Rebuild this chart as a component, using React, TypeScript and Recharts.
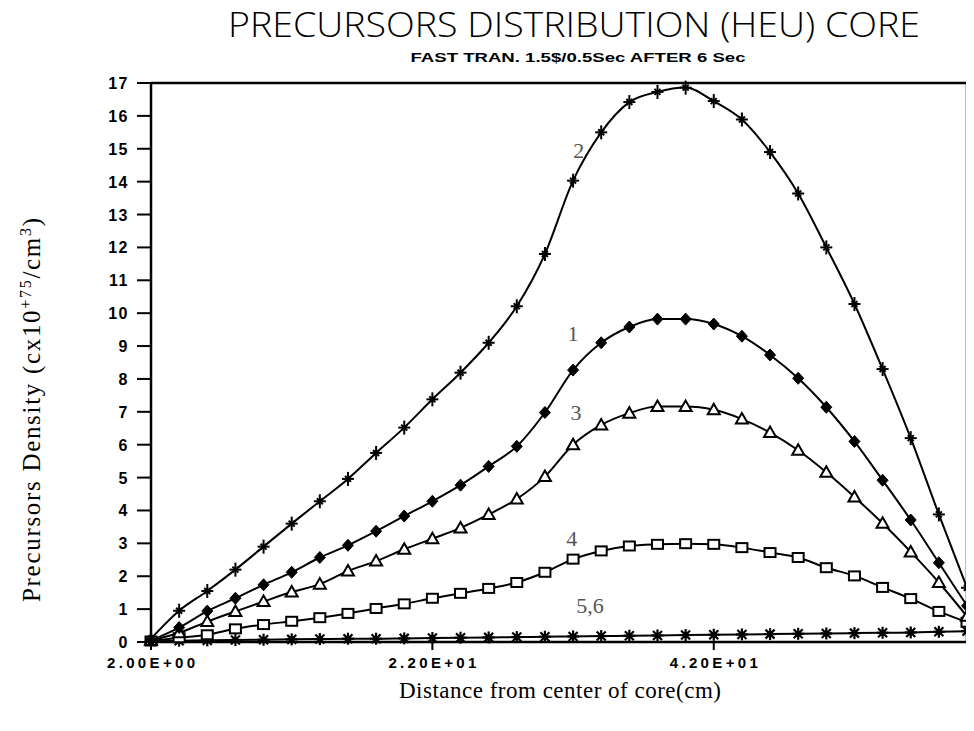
import React from "react";
import { LineChart, Line, XAxis, YAxis, ReferenceLine, ReferenceDot } from "recharts";

// Radial positions (cm) where the precursor density was sampled
const distances = [2, 4, 6, 8, 10, 12, 14, 16, 18, 20, 22, 24, 26, 28, 30, 32, 34, 36, 38, 40, 42, 44, 46, 48, 50, 52, 54, 56, 58, 60];

// Precursor group densities (x10^75 / cm^3)
const group2 = [0.1, 0.95, 1.55, 2.2, 2.9, 3.6, 4.28, 4.96, 5.75, 6.52, 7.38, 8.19, 9.1, 10.21, 11.8, 14.03, 15.5, 16.42, 16.73, 16.86, 16.45, 15.89, 14.9, 13.64, 12.0, 10.28, 8.3, 6.2, 3.88, 1.65];
const group1 = [0.05, 0.44, 0.94, 1.33, 1.74, 2.12, 2.57, 2.94, 3.37, 3.83, 4.28, 4.77, 5.34, 5.95, 6.98, 8.27, 9.1, 9.58, 9.82, 9.82, 9.67, 9.3, 8.73, 8.02, 7.14, 6.1, 4.92, 3.71, 2.41, 1.1];
const group3 = [0.05, 0.28, 0.62, 0.93, 1.23, 1.52, 1.76, 2.16, 2.46, 2.82, 3.14, 3.47, 3.88, 4.35, 5.03, 6.0, 6.6, 6.96, 7.16, 7.16, 7.06, 6.78, 6.37, 5.83, 5.16, 4.41, 3.61, 2.74, 1.81, 0.78];
const group4 = [0.03, 0.13, 0.22, 0.4, 0.53, 0.63, 0.74, 0.87, 1.02, 1.16, 1.33, 1.48, 1.63, 1.81, 2.12, 2.52, 2.77, 2.92, 2.97, 2.99, 2.97, 2.87, 2.72, 2.57, 2.26, 2.01, 1.66, 1.32, 0.93, 0.6];
const group56 = [0.02, 0.04, 0.05, 0.06, 0.07, 0.08, 0.09, 0.1, 0.1, 0.11, 0.12, 0.13, 0.14, 0.15, 0.16, 0.17, 0.18, 0.19, 0.2, 0.21, 0.22, 0.23, 0.24, 0.25, 0.26, 0.27, 0.28, 0.29, 0.31, 0.33];

const xTickValues = [2, 22, 42];
const yTickValues = [0, 1, 2, 3, 4, 5, 6, 7, 8, 9, 10, 11, 12, 13, 14, 15, 16, 17];

// Group numbers written beside each curve
const groupTags = [
  { text: "2", distance: 32.4, density: 14.95 },
  { text: "1", distance: 32.0, density: 9.4 },
  { text: "3", distance: 32.2, density: 7.0 },
  { text: "4", distance: 31.9, density: 3.16 },
  { text: "5,6", distance: 33.2, density: 1.12 },
];

const rows = distances.map((d, i) => ({
  d,
  g1: group1[i],
  g2: group2[i],
  g3: group3[i],
  g4: group4[i],
  g56: group56[i],
}));

const W = 966;
const H = 715;
const INK = "#000";

const sci = (v: number) => {
  const exp = v === 0 ? 0 : Math.floor(Math.log10(Math.abs(v)));
  const mant = v / Math.pow(10, exp);
  return `${mant.toFixed(2)}E${exp >= 0 ? "+" : "-"}${String(Math.abs(exp)).padStart(2, "0")}`;
};

const tickFont = "'Liberation Sans', Arial, sans-serif";

const PlusMark = ({ cx, cy }: any) => (
  <g stroke={INK} strokeWidth={2}>
    <line x1={cx - 6} y1={cy} x2={cx + 6} y2={cy} />
    <line x1={cx} y1={cy - 7} x2={cx} y2={cy + 7} />
    <line x1={cx - 3} y1={cy - 3} x2={cx + 3} y2={cy + 3} />
    <line x1={cx - 3} y1={cy + 3} x2={cx + 3} y2={cy - 3} />
  </g>
);

const DiamondMark = ({ cx, cy }: any) => (
  <polygon
    points={`${cx},${cy - 6} ${cx + 5.5},${cy} ${cx},${cy + 6} ${cx - 5.5},${cy}`}
    fill={INK}
    stroke={INK}
    strokeWidth={1}
  />
);

const TriangleMark = ({ cx, cy }: any) => (
  <polygon
    points={`${cx},${cy - 6} ${cx + 6},${cy + 4.5} ${cx - 6},${cy + 4.5}`}
    fill="#fff"
    stroke={INK}
    strokeWidth={2}
  />
);

const SquareMark = ({ cx, cy }: any) => (
  <rect x={cx - 5.5} y={cy - 4.5} width={11} height={9} fill="#fff" stroke={INK} strokeWidth={2} />
);

const StarMark = ({ cx, cy }: any) => (
  <g stroke={INK} strokeWidth={2.2}>
    <line x1={cx - 6} y1={cy} x2={cx + 6} y2={cy} />
    <line x1={cx} y1={cy - 6} x2={cx} y2={cy + 6} />
    <line x1={cx - 4.5} y1={cy - 4.5} x2={cx + 4.5} y2={cy + 4.5} />
    <line x1={cx - 4.5} y1={cy + 4.5} x2={cx + 4.5} y2={cy - 4.5} />
    <circle cx={cx} cy={cy} r={3} fill={INK} stroke="none" />
  </g>
);

const dotWith = (Mark: any) => (p: any) => <Mark key={`m-${p.index}`} cx={p.cx} cy={p.cy} />;

const XTick = (p: any) => (
  <text
    x={p.x}
    y={p.y}
    dy={16}
    textAnchor="middle"
    fontFamily={tickFont}
    fontWeight={700}
    fontSize={15}
    textLength={88}
    lengthAdjust="spacing"
    fill={INK}
  >
    {sci(p.payload.value)}
  </text>
);

const YTick = (p: any) => (
  <text
    x={p.x}
    y={p.y}
    dy={6}
    textAnchor="end"
    fontFamily={tickFont}
    fontWeight={700}
    fontSize={16}
    style={{ letterSpacing: "1.5px" }}
    fill={INK}
  >
    {p.payload.value}
  </text>
);

const lineProps = {
  type: "monotone" as const,
  stroke: INK,
  strokeWidth: 2,
  isAnimationActive: false,
  activeDot: false as const,
};

export default function App() {
  return (
    <div style={{ position: "relative", width: W, height: H, background: "#fff" }}>
      <LineChart width={W} height={H} data={rows} margin={{ top: 75, right: 7, bottom: 51, left: 0 }}>
        <XAxis
          dataKey="d"
          type="number"
          domain={[2, 60]}
          ticks={xTickValues}
          interval={0}
          height={30}
          tickSize={8}
          axisLine={{ stroke: INK, strokeWidth: 2.5 }}
          tickLine={{ stroke: INK, strokeWidth: 2 }}
          tick={XTick}
        />
        <YAxis
          type="number"
          domain={[0, 17]}
          ticks={yTickValues}
          interval={0}
          width={143}
          tickSize={14}
          tickMargin={8}
          axisLine={{ stroke: INK, strokeWidth: 2.5 }}
          tickLine={{ stroke: INK, strokeWidth: 2 }}
          tick={YTick}
        />
        <ReferenceLine y={17} stroke={INK} strokeWidth={2.5} />
        <ReferenceLine x={60} stroke={INK} strokeWidth={2.5} />

        <Line dataKey="g56" {...lineProps} dot={dotWith(StarMark)} />
        <Line dataKey="g4" {...lineProps} dot={dotWith(SquareMark)} />
        <Line dataKey="g3" {...lineProps} dot={dotWith(TriangleMark)} />
        <Line dataKey="g1" {...lineProps} dot={dotWith(DiamondMark)} />
        <Line dataKey="g2" {...lineProps} dot={dotWith(PlusMark)} />

        {groupTags.map((t) => (
          <ReferenceDot
            key={t.text}
            x={t.distance}
            y={t.density}
            r={0}
            shape={(p: any) => (
              <text
                x={p.cx}
                y={p.cy}
                dy={8}
                textAnchor="middle"
                fontFamily="'Liberation Serif', serif"
                fontSize={22}
                fill="#555"
              >
                {t.text}
              </text>
            )}
          />
        ))}
      </LineChart>

      <svg
        width={W}
        height={H}
        style={{ position: "absolute", left: 0, top: 0, pointerEvents: "none", overflow: "visible" }}
      >
        <text
          x={566}
          y={29}
          textAnchor="middle"
          fontFamily="'Open Sans', 'Liberation Sans', sans-serif"
          fontWeight={300}
          fontSize={35}
          textLength={692}
          lengthAdjust="spacingAndGlyphs"
          fill={INK}
        >
          PRECURSORS DISTRIBUTION (HEU) CORE
        </text>
        <text
          x={570}
          y={54}
          textAnchor="middle"
          fontFamily={tickFont}
          fontWeight={700}
          fontSize={13}
          textLength={335}
          lengthAdjust="spacingAndGlyphs"
          fill={INK}
        >
          FAST TRAN. 1.5$/0.5Sec AFTER 6 Sec
        </text>
        <text
          x={552}
          y={690}
          textAnchor="middle"
          fontFamily="'Liberation Serif', 'Times New Roman', serif"
          fontSize={23}
          textLength={322}
          fill={INK}
        >
          Distance from center of core(cm)
        </text>
        <text
          transform="translate(32, 402) rotate(-90)"
          textAnchor="middle"
          fontFamily="'Liberation Serif', 'Times New Roman', serif"
          fontSize={25}
          textLength={384}
          fill={INK}
        >
          Precursors Density (cx10
          <tspan fontSize={16} dy={-9}>+75</tspan>
          <tspan dy={9}>/cm</tspan>
          <tspan fontSize={16} dy={-9}>3</tspan>
          <tspan dy={9}>)</tspan>
        </text>
      </svg>
    </div>
  );
}
